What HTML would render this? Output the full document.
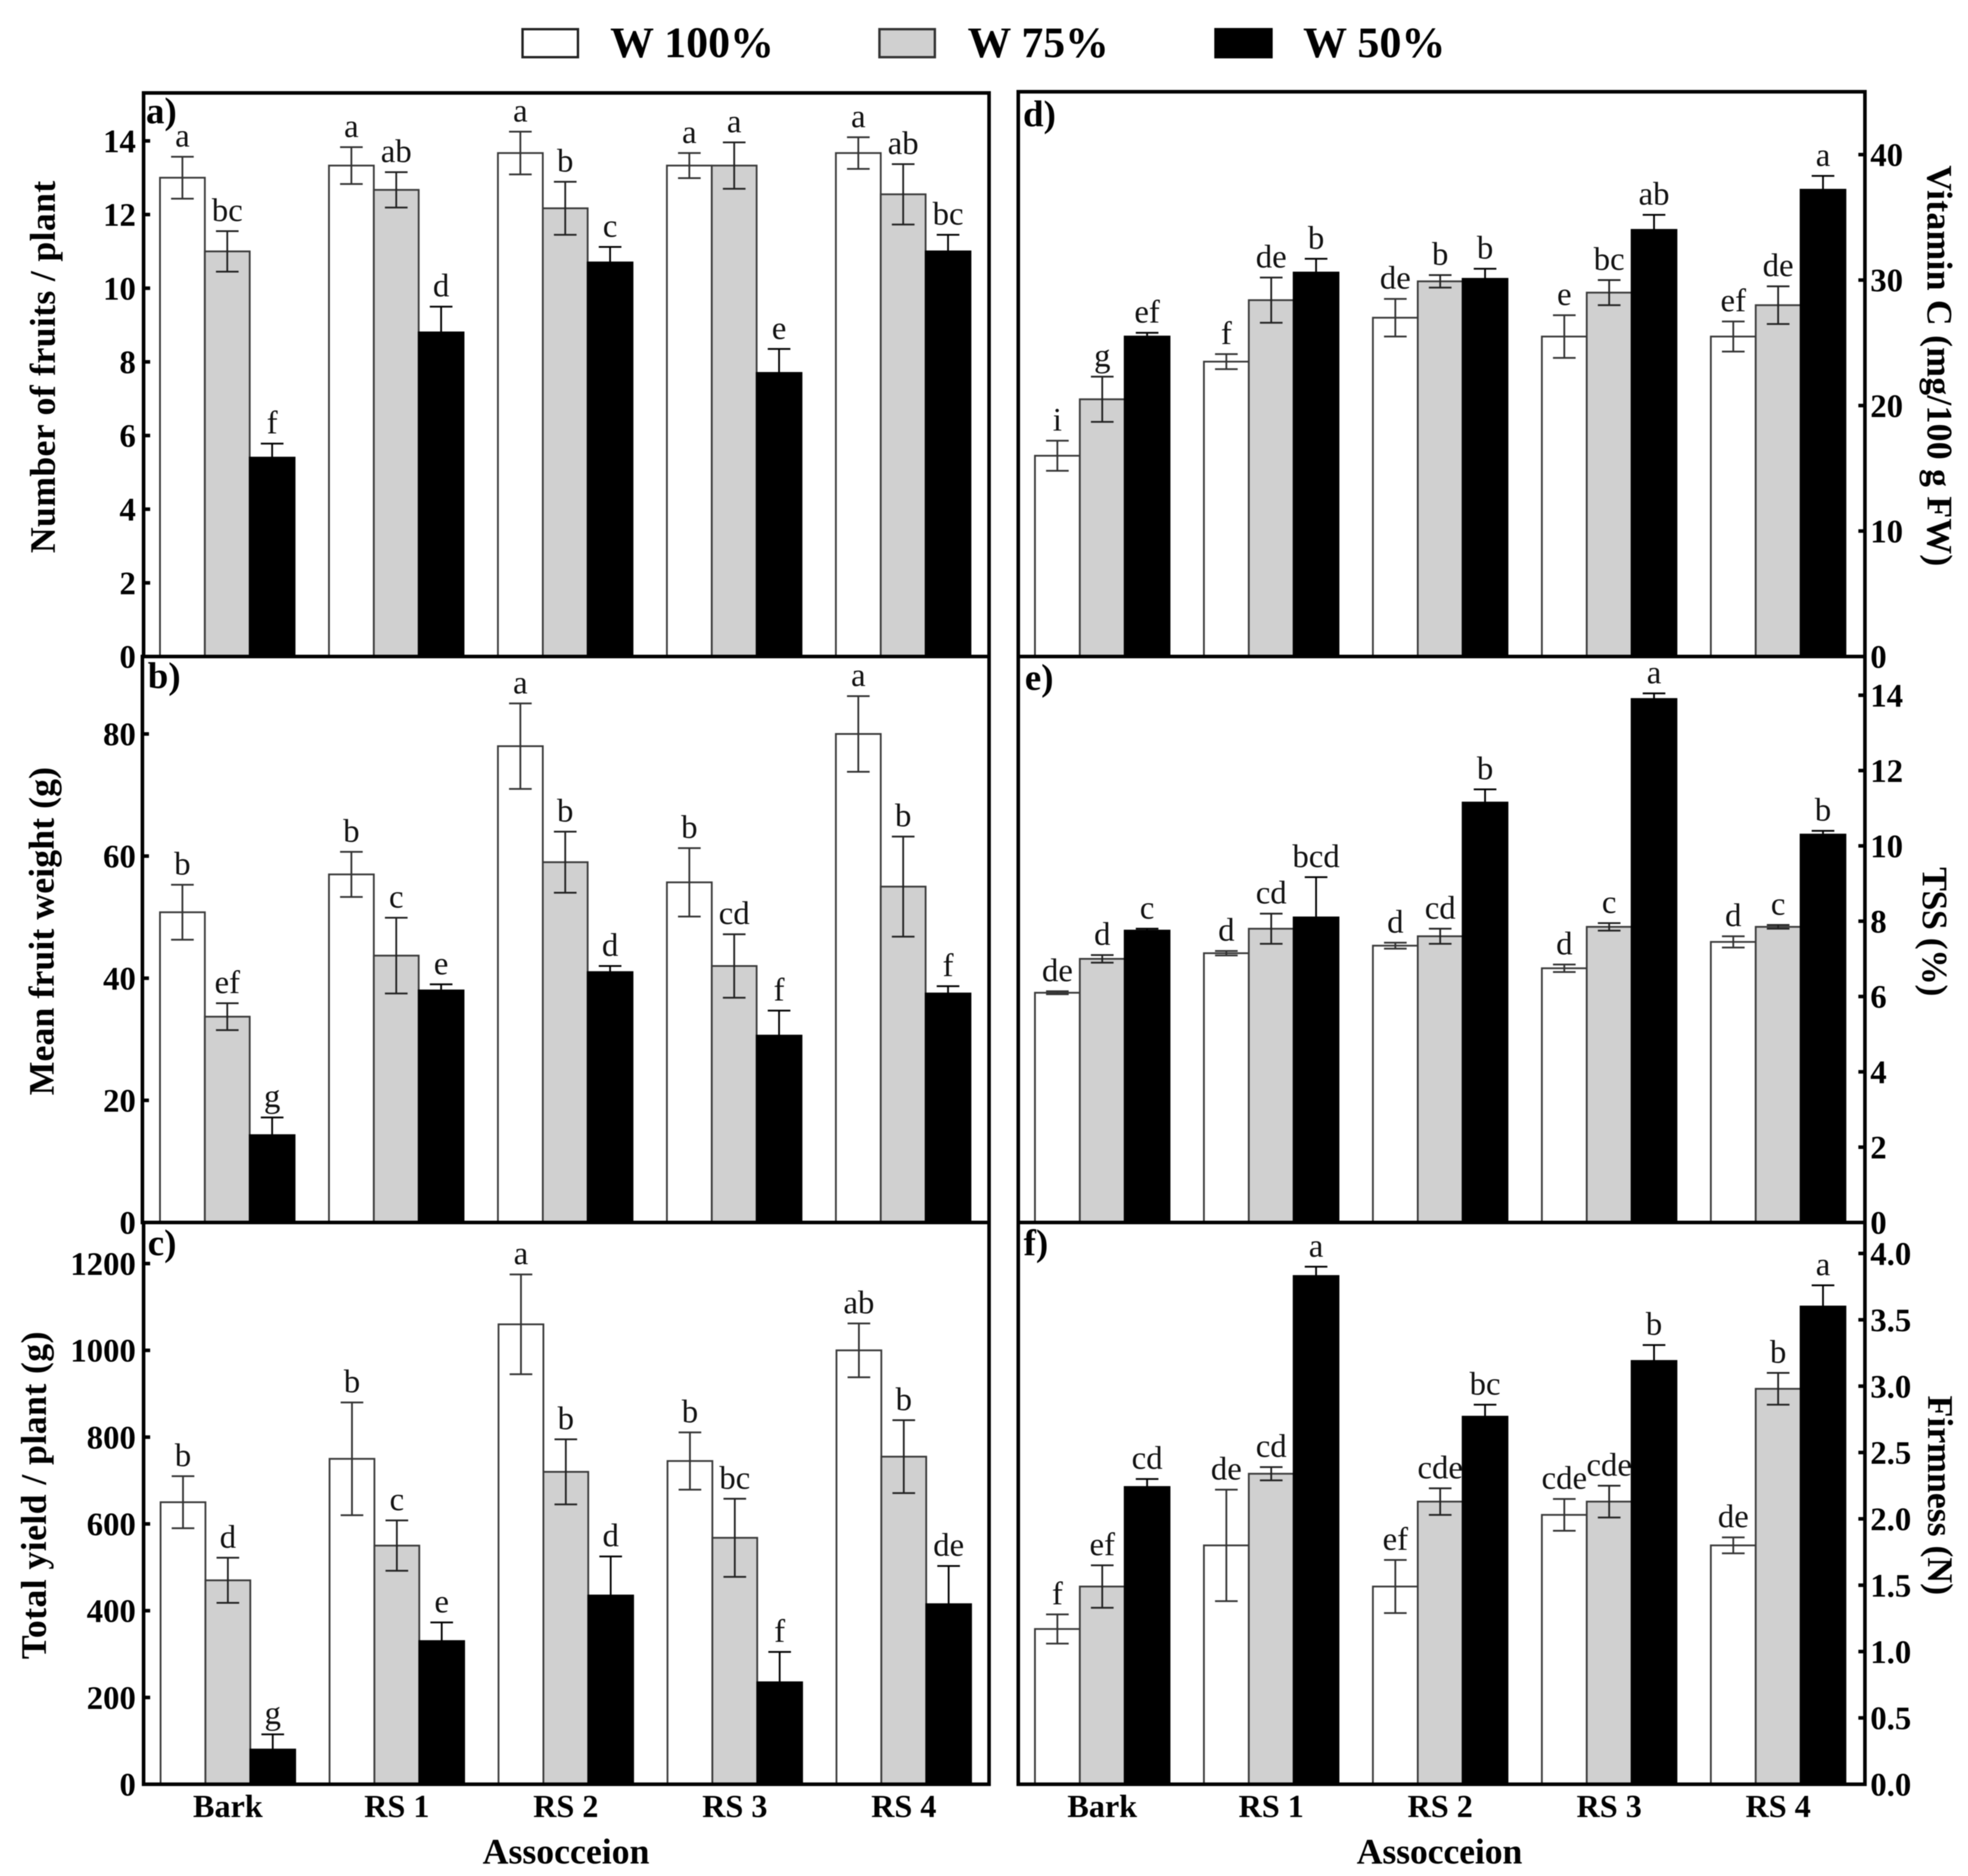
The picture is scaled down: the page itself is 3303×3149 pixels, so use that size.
<!DOCTYPE html>
<html lang="en">
<head>
<meta charset="utf-8">
<title>Fruit yield and quality by substrate and water level</title>
<style>
html,body{margin:0;padding:0;background:#fff}
svg{display:block;font-family:"Liberation Serif",serif;filter:blur(0.7px)}
</style>
</head>
<body>
<svg id="chart" xmlns="http://www.w3.org/2000/svg" width="3303" height="3149" viewBox="0 0 3303 3149">
  <rect x="0" y="0" width="3303" height="3149" fill="#fff"/>
  <g id="marks"></g>
  <g font-weight="bold" font-size="73">
    <rect x="877" y="49" width="93" height="47" fill="#fff" stroke="#222" stroke-width="4"/>
    <text x="1024" y="96" textLength="275" lengthAdjust="spacingAndGlyphs">W 100%</text>
    <rect x="1476" y="49" width="93" height="47" fill="#d0d0d0" stroke="#333" stroke-width="4"/>
    <text x="1624" y="96" textLength="237" lengthAdjust="spacingAndGlyphs">W 75%</text>
    <rect x="2038" y="47" width="98" height="51" fill="#000"/>
    <text x="2187" y="96" textLength="239" lengthAdjust="spacingAndGlyphs">W 50%</text>
  </g>
  <g font-weight="bold" font-size="60" text-anchor="middle">
    <text transform="translate(92,616) rotate(-90)" textLength="625">Number of fruits / plant</text>
    <text transform="translate(90,1563) rotate(-90)" textLength="551">Mean fruit weight (g)</text>
    <text transform="translate(77,2510) rotate(-90)" textLength="550">Total yield / plant (g)</text>
    <text transform="translate(3235,614) rotate(90)" textLength="673">Vitamin C (mg/100 g FW)</text>
    <text transform="translate(3227,1564) rotate(90)" textLength="217">TSS (%)</text>
    <text transform="translate(3236,2510) rotate(90)" textLength="335">Firmness (N)</text>
    <text x="950" y="3128" textLength="280">Assocceion</text>
    <text x="2416" y="3128" textLength="278">Assocceion</text>
  </g>
</svg>
<script>
// ---------- data ----------
const categories = ["Bark", "RS 1", "RS 2", "RS 3", "RS 4"];
const seriesNames = ["w100", "w75", "w50"];

const fruitsW100 = [13, 13.33, 13.67, 13.33, 13.67];
const fruitsW75 = [11, 12.67, 12.17, 13.33, 12.55];
const fruitsW50 = [5.4, 8.8, 10.7, 7.7, 11];
const fruitsErrW100 = [0.57, 0.5, 0.58, 0.34, 0.43];
const fruitsErrW75 = [0.55, 0.48, 0.72, 0.63, 0.82];
const fruitsErrW50 = [0.38, 0.7, 0.42, 0.65, 0.45];
const fruitsLetters = [["a","a","a","a","a"],["bc","ab","b","a","ab"],["f","d","c","e","bc"]];
const fruitsTicks = ["0","2","4","6","8","10","12","14"];

const weightW100 = [50.8, 57, 78, 55.7, 80];
const weightW75 = [33.7, 43.7, 59, 42, 55];
const weightW50 = [14.3, 38, 41, 30.6, 37.5];
const weightErrW100 = [4.5, 3.7, 7, 5.6, 6.2];
const weightErrW75 = [2.2, 6.2, 5, 5.2, 8.2];
const weightErrW50 = [2.9, 1, 1, 4.1, 1.2];
const weightLetters = [["b","b","a","b","a"],["ef","c","b","cd","b"],["g","e","d","f","f"]];
const weightTicks = ["0","20","40","60","80"];

const yieldW100 = [650, 750, 1060, 745, 1000];
const yieldW75 = [470, 550, 720, 568, 755];
const yieldW50 = [80, 330, 435, 235, 415];
const yieldErrW100 = [60, 130, 115, 66, 62];
const yieldErrW75 = [52, 58, 75, 90, 84];
const yieldErrW50 = [35, 43, 90, 70, 88];
const yieldLetters = [["b","b","a","b","ab"],["d","c","b","bc","b"],["g","e","d","f","de"]];
const yieldTicks = ["0","200","400","600","800","1000","1200"];

const vitaminW100 = [16, 23.5, 27, 25.5, 25.5];
const vitaminW75 = [20.5, 28.4, 29.9, 29, 28];
const vitaminW50 = [25.5, 30.6, 30.1, 34, 37.2];
const vitaminErrW100 = [1.2, 0.6, 1.5, 1.7, 1.2];
const vitaminErrW75 = [1.8, 1.8, 0.5, 1, 1.5];
const vitaminErrW50 = [0.3, 1.1, 0.8, 1.2, 1.1];
const vitaminLetters = [["i","f","de","e","ef"],["g","de","b","bc","de"],["ef","b","b","ab","a"]];
const vitaminTicks = ["0","10","20","30","40"];

const tssW100 = [6.1, 7.15, 7.35, 6.75, 7.45];
const tssW75 = [7, 7.8, 7.6, 7.85, 7.85];
const tssW50 = [7.75, 8.1, 11.15, 13.9, 10.3];
const tssErrW100 = [0.04, 0.06, 0.08, 0.1, 0.15];
const tssErrW75 = [0.1, 0.4, 0.2, 0.1, 0.05];
const tssErrW50 = [0.05, 1.07, 0.35, 0.15, 0.1];
const tssLetters = [["de","d","d","d","d"],["d","cd","cd","c","c"],["c","bcd","b","a","b"]];
const tssTicks = ["0","2","4","6","8","10","12","14"];

const firmnessW100 = [1.17, 1.8, 1.49, 2.03, 1.8];
const firmnessW75 = [1.49, 2.34, 2.13, 2.13, 2.98];
const firmnessW50 = [2.24, 3.83, 2.77, 3.19, 3.6];
const firmnessErrW100 = [0.11, 0.42, 0.2, 0.12, 0.06];
const firmnessErrW75 = [0.16, 0.05, 0.1, 0.12, 0.12];
const firmnessErrW50 = [0.06, 0.07, 0.09, 0.12, 0.16];
const firmnessLetters = [["f","de","ef","cde","de"],["ef","cd","cde","cde","b"],["cd","a","bc","b","a"]];
const firmnessTicks = ["0.0","0.5","1.0","1.5","2.0","2.5","3.0","3.5","4.0"];

// ---------- layout ----------
const NS = "http://www.w3.org/2000/svg";
const root = document.getElementById("marks");
const fills = ["#ffffff", "#d0d0d0", "#000000"];
const strokes = ["#3a3a3a", "#3a3a3a", "#000000"];
const errStrokes = ["#333333", "#222222", "#000000"];
const GROUP_STEP = 283.6, BAR_W = 75.3, CAP_W = 38;

const panels = [
  {id:"a", label:"a)", lx:245, ly:207, side:"left", x0:241, x1:1660, top:156, base:1102, tickTopY:236.5, firstBar:268.5, values:[fruitsW100,fruitsW75,fruitsW50], errs:[fruitsErrW100,fruitsErrW75,fruitsErrW50], letters:fruitsLetters, ticks:fruitsTicks, showX:false},
  {id:"b", label:"b)", lx:248, ly:1155, side:"left", x0:239, x1:1660, top:1102, base:2052, tickTopY:1232, firstBar:268.5, values:[weightW100,weightW75,weightW50], errs:[weightErrW100,weightErrW75,weightErrW50], letters:weightLetters, ticks:weightTicks, showX:false},
  {id:"c", label:"c)", lx:248, ly:2107, side:"left", x0:241, x1:1660, top:2052, base:2995, tickTopY:2121, firstBar:269.5, values:[yieldW100,yieldW75,yieldW50], errs:[yieldErrW100,yieldErrW75,yieldErrW50], letters:yieldLetters, ticks:yieldTicks, showX:true},
  {id:"d", label:"d)", lx:1717, ly:212, side:"right", x0:1709, x1:3130, top:154, base:1102, tickTopY:259.5, firstBar:1737, values:[vitaminW100,vitaminW75,vitaminW50], errs:[vitaminErrW100,vitaminErrW75,vitaminErrW50], letters:vitaminLetters, ticks:vitaminTicks, showX:false},
  {id:"e", label:"e)", lx:1720, ly:1158, side:"right", x0:1709, x1:3130, top:1102, base:2052, tickTopY:1167, firstBar:1737, values:[tssW100,tssW75,tssW50], errs:[tssErrW100,tssErrW75,tssErrW50], letters:tssLetters, ticks:tssTicks, showX:false},
  {id:"f", label:"f)", lx:1718, ly:2107, side:"right", x0:1709, x1:3130, top:2052, base:2995, tickTopY:2104, firstBar:1737, values:[firmnessW100,firmnessW75,firmnessW50], errs:[firmnessErrW100,firmnessErrW75,firmnessErrW50], letters:firmnessLetters, ticks:firmnessTicks, showX:true}
];

function mk(tag, attrs, parent, txt) {
  const e = document.createElementNS(NS, tag);
  for (const k in attrs) e.setAttribute(k, attrs[k]);
  if (txt !== undefined) e.textContent = txt;
  parent.appendChild(e);
  return e;
}
function yAxis(p) {
  const maxTick = parseFloat(p.ticks[p.ticks.length - 1]);
  return v => p.base - (v / maxTick) * (p.base - p.tickTopY);
}
function xBar(p, catIndex, seriesIndex) {
  return p.firstBar + catIndex * GROUP_STEP + seriesIndex * BAR_W;
}

panels.forEach(p => {
  const y = yAxis(p);
  const g = mk("g", {}, root);
  
  

  // bars
  p.values.forEach((vals, s) => {
    vals.forEach((v, c) => {
      const bx = xBar(p, c, s), by = y(v);
      const bar = mk("rect", {x:bx, y:by, width:BAR_W, height:p.base - by, fill:fills[s], stroke:strokes[s], "stroke-width":3}, g);
      
      
    });
  });

  // error bars and significance letters
  p.values.forEach((vals, s) => {
    vals.forEach((v, c) => {
      const cx = xBar(p, c, s) + BAR_W / 2;
      const e = p.errs[s][c];
      const yTop = y(v + e), yBot = y(v - e);
      const eb = mk("path", {d:"M" + (cx - CAP_W / 2) + " " + yTop + "H" + (cx + CAP_W / 2) + "M" + cx + " " + yTop + "V" + yBot + "M" + (cx - CAP_W / 2) + " " + yBot + "H" + (cx + CAP_W / 2), fill:"none", stroke:errStrokes[s], "stroke-width":3}, g);
      
      
      const t = mk("text", {x:cx, y:yTop - 17, "text-anchor":"middle", "font-size":55, fill:"#111"}, g, p.letters[s][c]);
      
      
    });
  });

  // frame
  const frame = mk("rect", {x:p.x0, y:p.top, width:p.x1 - p.x0, height:p.base - p.top, fill:"none", stroke:"#000", "stroke-width":6}, g);
  
  

  // y ticks
  p.ticks.forEach(tk => {
    const ty = y(parseFloat(tk));
    const isLeft = p.side === "left";
    const inner = isLeft ? p.x0 + 11 : p.x1 - 11;
    const edge = isLeft ? p.x0 : p.x1;
    if (parseFloat(tk) > 0) {
      const tl = mk("line", {x1:edge, x2:inner, y1:ty, y2:ty, stroke:"#000", "stroke-width":6}, g);
      
      
    }
    const lab = mk("text", {x:isLeft ? 228 : 3139, y:ty + 19, "text-anchor":isLeft ? "end" : "start", "font-size":55, "font-weight":"bold", fill:"#000"}, g, tk);
    
    
  });

  // x labels
  if (p.showX) {
    categories.forEach((cat, c) => {
      const cx = xBar(p, c, 1) + BAR_W / 2;
      const xl = mk("text", {x:cx, y:3050, "text-anchor":"middle", "font-size":54, "font-weight":"bold", fill:"#000"}, g, cat);
      
      
    });
  }

  // panel letter
  const pl = mk("text", {x:p.lx, y:p.ly, "font-size":62, "font-weight":"bold", fill:"#000"}, g, p.label);
  
  
});
</script>
</body>
</html>
